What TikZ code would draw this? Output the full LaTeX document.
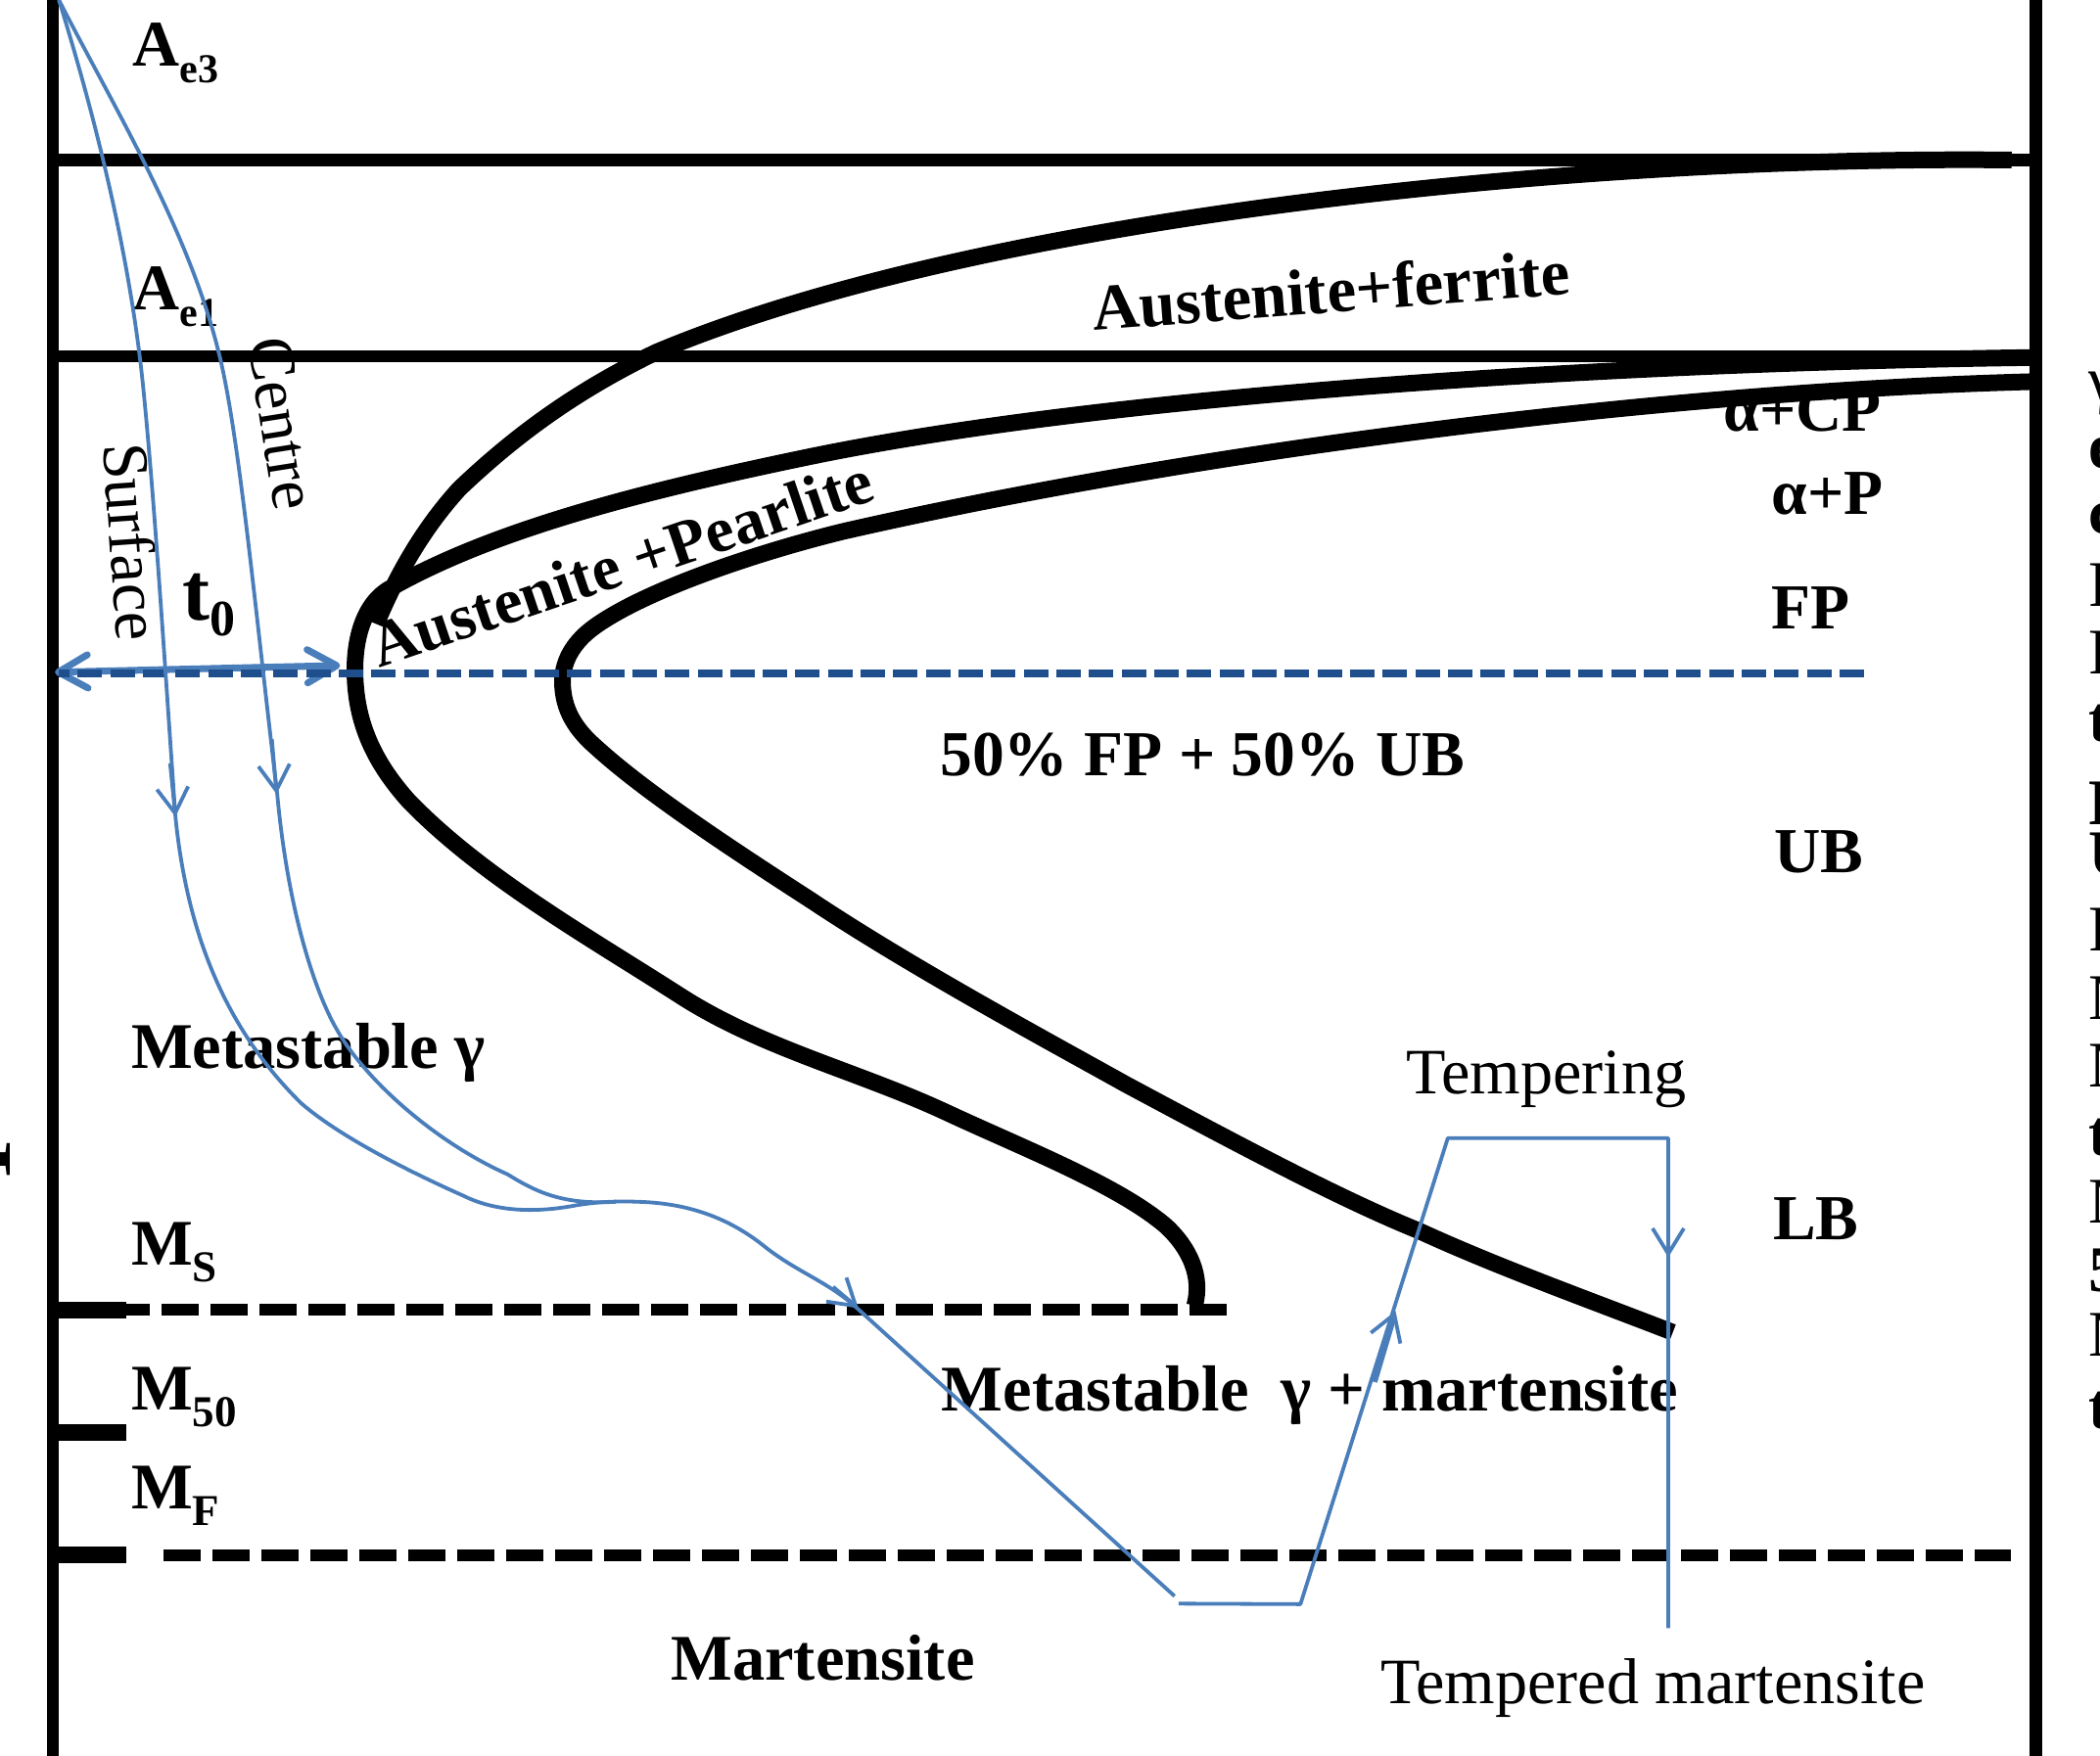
\documentclass[tikz,border=0pt]{standalone}
\usepackage{fontspec}
\setmainfont{Liberation Serif}
\usetikzlibrary{arrows.meta}
\definecolor{curveblue}{HTML}{4A7EBB}
\definecolor{dashblue}{HTML}{1F4E8C}
\newcommand{\txtsize}{\fontsize{66.5}{70}\selectfont}
\newcommand{\regsize}{\fontsize{66.2}{70}\selectfont}
\newcommand{\cutsize}{\fontsize{65.5}{70}\selectfont}
\newcommand{\subtxt}[1]{\raisebox{-17pt}{\fontsize{42}{42}\selectfont #1}}
\newcommand{\subbig}[1]{\raisebox{-17pt}{\fontsize{45}{45}\selectfont #1}}
\tikzset{
 lbl/.style={anchor=base west,inner sep=0pt,outer sep=0pt,font=\regsize},
 blbl/.style={anchor=base west,inner sep=0pt,outer sep=0pt,font=\txtsize\bfseries},
 slbl/.style={anchor=base west,inner sep=0pt,outer sep=0pt,font=\cutsize\bfseries},
 axisline/.style={line width=12.5pt,black},
 levelline/.style={line width=12.7pt,black},
 kinetic/.style={line width=17pt,black,line cap=butt,line join=round},
 dashline/.style={line width=12.5pt,black,dash pattern=on 38pt off 12pt},
 tick/.style={line width=17pt,black},
 coolpath/.style={line width=3.8pt,curveblue,line join=round},
 barb/.style={line width=3.8pt,curveblue,-{Straight Barb[length=26pt,width=32pt,line width=3.8pt]}},
 tzero/.style={line width=7pt,curveblue,{Straight Barb[length=30pt,width=34pt,line width=7pt,round]}-{Straight Barb[length=30pt,width=34pt,line width=7pt,round]}},
}
\begin{document}
\begin{tikzpicture}[x=1.36798pt,y=-1.36798pt]
\useasboundingbox (0,0) rectangle (1568,1311.4);
% axes
\draw[axisline] (39.5,0) -- (39.5,1311.4);
\draw[axisline] (1520,0) -- (1520,1311.4);
% levels
\draw[levelline] (39.5,119.5) -- (1520,119.5);
\draw[levelline] (39.5,266) -- (1520,266);
\draw[tick] (44,978.5) -- (94,978.5);
\draw[tick] (44,1070) -- (94,1070);
\draw[tick] (44,1161.5) -- (94,1161.5);
\draw[dashline,dash phase=14pt] (94,978) -- (917,978);
\draw[dashline] (122,1161.5) -- (1501.5,1161.5);
% texts
\node[blbl] (ae3) at (99,49) {A\subtxt{e3}};
\node[blbl] (ae1) at (99,231) {A\subtxt{e1}};
\node[blbl] (meta) at (98,798) {Metastable γ};
\node[blbl] (ms) at (98,945) {M\subbig{S}};
\node[blbl] (m50) at (98,1053) {M\subbig{50}};
\node[blbl] (mf) at (98,1127) {M\subbig{F}};
\node[blbl] (mart) at (501,1255) {Martensite};
\node[lbl] (tm) at (1031,1272) {Tempered martensite};
\node[lbl] (tempering) at (1050,817) {Tempering};
\node[blbl] (mgm) at (703,1054) {Metastable\ \ γ + martensite};
\node[slbl] (fpub) at (702,579) {50\% FP + 50\% UB};
\node[slbl] (ub) at (1325,652) {UB};
\node[slbl] (lb) at (1324,926) {LB};
\node[slbl] (fp) at (1323,470) {FP};
\node[slbl] (ap) at (1323,384) {α+P};
\node[slbl] (acp) at (1287,322) {α+CP};
\node[blbl,rotate=4.4] (af) at (817,247) {Austenite+ferrite};
\node[slbl,rotate=18.7] (apl) at (283,499) {Austenite +Pearlite};
\node[lbl,rotate=-86] (surf) at (77,332) {Surface};
\node[lbl,rotate=-81] (cen) at (185,255) {Centre};
\node[anchor=base west,inner sep=0pt,font=\fontsize{84}{88}\selectfont\bfseries] (t0) at (136,463) {t\raisebox{-16pt}{\fontsize{52}{52}\selectfont 0}};
% clipped texts at the edges
\node[anchor=base,inner sep=0pt,rotate=90,font=\fontsize{90}{90}\selectfont\bfseries] (edgeT) at (8,866) {T};
\foreach \nm/\yy/\ch/\wt in {a/300/γ/m,b/350/e/b,c/398.6/c/b,d/452.6/F/m,e/503/F/m,f/554/t/b,g/616/F/b,h/653.6/U/b,i/710/F/m,j/761/M/m,k/811.6/M/m,l/862.7/t/b,m/913.6/M/m,n/964.6/5/b,o/1012.6/M/m,p/1066.8/t/b}{
  \node[anchor=base west,inner sep=0pt,font=\txtsize\if\wt b\bfseries\fi] (edge\nm) at (1559.5,\yy) {\ch};
}
% kinetic curves
\draw[kinetic] (1502,119.5) .. controls (1200,116) and (740,158) .. (490,263)
  .. controls (430,292) and (385,325) .. (343,365)
  .. controls (322,388) and (300,420) .. (281,466);
\draw[kinetic] (1518,267) .. controls (1150,272) and (800,300) .. (600,342)
  .. controls (480,367) and (370,395) .. (292,439)
  .. controls (270,451) and (265,480) .. (265,500)
  .. controls (265,540) and (280,570) .. (305,598)
  .. controls (360,655) and (440,700) .. (510,745)
  .. controls (570,783) and (640,800) .. (705,830)
  .. controls (765,858) and (835,885) .. (871,916)
  .. controls (888,932) and (898,953) .. (892,975);
\draw[kinetic] (1518,285) .. controls (1250,292) and (900,335) .. (629,397)
  .. controls (560,414) and (480,442) .. (444,468)
  .. controls (430,478) and (420,492) .. (420,509)
  .. controls (420,530) and (430,545) .. (445,558)
  .. controls (480,590) and (540,630) .. (605,672)
  .. controls (680,722) and (780,776) .. (841,810)
  .. controls (925,855) and (1000,895) .. (1059,919)
  .. controls (1120,947) and (1190,972) .. (1249,995);
% t0 arrow and the dashed blue line
\draw[tzero] (41,502) -- (254,497);
\draw[line width=8.3pt,dashblue,dash pattern=on 25pt off 8.33pt,dash phase=14.3pt] (44,503) -- (1393,503);
% cooling paths
\draw[coolpath] (44,0) .. controls (75,100) and (98,200) .. (107,290)
  .. controls (115,370) and (122,480) .. (131,610)
  .. controls (140,700) and (170,770) .. (225,824)
  .. controls (255,850) and (310,877) .. (346,893)
  .. controls (370,905) and (400,906) .. (431,900)
  .. controls (450,897) and (465,897) .. (479,897.6)
  .. controls (515,899) and (545,910) .. (571,931)
  .. controls (595,950) and (618,957) .. (640,977)
  -- (877,1192);
\draw[coolpath] (44,0) .. controls (85,80) and (140,170) .. (163,262)
  .. controls (178,320) and (190,450) .. (207,593)
  .. controls (215,680) and (235,740) .. (251,768)
  .. controls (272,806) and (325,853) .. (379,877)
  .. controls (400,890) and (420,900) .. (460,897.5);
\draw[coolpath] (880,1197.6) -- (971,1198) -- (1081,850) -- (1245.6,850) -- (1245.6,1216);
\draw[barb] (127,570) -- (131,610);
\draw[barb] (203,552) -- (206.5,593);
\draw[barb] (622,961) -- (641,977);
\draw[barb] (1245.6,900) -- (1245.6,939);
\draw[barb] (1030,1012) -- (1042,979);
\draw[line width=6.5pt,curveblue] (1026,1032) -- (1040,985);
\end{tikzpicture}
\end{document}
